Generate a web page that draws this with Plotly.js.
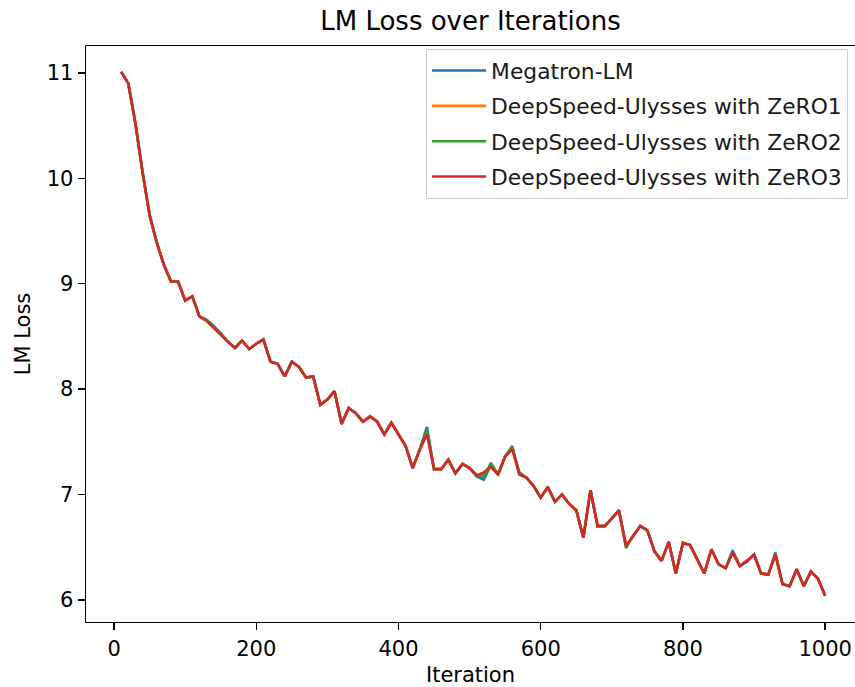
<!DOCTYPE html>
<html>
<head>
<meta charset="utf-8">
<script src="https://cdn.plot.ly/plotly-3.0.1.min.js"></script>
<style>
html,body{margin:0;padding:0;background:#fff;overflow:hidden;}
#chart{width:855px;height:687px;}
</style>
</head>
<body>
<div id="chart"></div>
<script>
const iterations = [10,20,30,40,50,60,70,80,90,100,110,120,130,140,150,160,170,180,190,200,210,220,230,240,250,260,270,280,290,300,310,320,330,340,350,360,370,380,390,400,410,420,430,440,450,460,470,480,490,500,510,520,530,540,550,560,570,580,590,600,610,620,630,640,650,660,670,680,690,700,710,720,730,740,750,760,770,780,790,800,810,820,830,840,850,860,870,880,890,900,910,920,930,940,950,960,970,980,990,1000];

const megatron = [11.01,10.90,10.52,10.06,9.65,9.39,9.18,9.02,9.02,8.84,8.88,8.69,8.66,8.60,8.53,8.45,8.39,8.46,8.38,8.43,8.47,8.26,8.24,8.12,8.26,8.21,8.11,8.12,7.85,7.90,7.98,7.67,7.82,7.77,7.69,7.74,7.69,7.57,7.68,7.57,7.46,7.25,7.43,7.64,7.24,7.24,7.33,7.20,7.29,7.25,7.17,7.14,7.28,7.19,7.36,7.46,7.19,7.16,7.08,6.97,7.07,6.93,7.00,6.91,6.85,6.59,7.04,6.70,6.70,6.77,6.85,6.51,6.61,6.70,6.66,6.46,6.37,6.55,6.25,6.54,6.52,6.39,6.25,6.48,6.34,6.30,6.47,6.32,6.36,6.43,6.25,6.24,6.45,6.15,6.13,6.29,6.13,6.27,6.20,6.04];

const zero1 = [11.01,10.90,10.52,10.06,9.65,9.39,9.18,9.02,9.02,8.84,8.88,8.69,8.65,8.58,8.52,8.45,8.39,8.46,8.38,8.43,8.47,8.26,8.24,8.12,8.26,8.21,8.11,8.12,7.85,7.90,7.98,7.67,7.82,7.77,7.69,7.74,7.69,7.57,7.68,7.57,7.46,7.25,7.43,7.59,7.24,7.24,7.33,7.20,7.29,7.25,7.18,7.20,7.27,7.19,7.36,7.44,7.19,7.16,7.08,6.97,7.07,6.93,7.00,6.91,6.85,6.59,7.04,6.70,6.70,6.77,6.85,6.51,6.61,6.70,6.66,6.46,6.37,6.55,6.25,6.54,6.52,6.39,6.25,6.48,6.34,6.30,6.45,6.32,6.37,6.43,6.25,6.24,6.43,6.15,6.13,6.29,6.13,6.27,6.20,6.04];

const zero2 = [11.01,10.90,10.52,10.06,9.65,9.39,9.18,9.02,9.02,8.84,8.88,8.69,8.65,8.58,8.52,8.45,8.39,8.46,8.38,8.43,8.47,8.26,8.24,8.12,8.26,8.21,8.11,8.12,7.85,7.90,7.98,7.67,7.82,7.77,7.69,7.74,7.69,7.57,7.68,7.57,7.46,7.25,7.43,7.61,7.24,7.24,7.33,7.20,7.29,7.25,7.18,7.17,7.30,7.19,7.36,7.44,7.21,7.16,7.08,6.97,7.07,6.93,7.00,6.91,6.85,6.59,7.04,6.70,6.70,6.77,6.85,6.49,6.61,6.70,6.66,6.46,6.37,6.55,6.25,6.54,6.52,6.39,6.25,6.48,6.34,6.30,6.45,6.32,6.37,6.43,6.25,6.24,6.43,6.15,6.13,6.29,6.13,6.27,6.20,6.04];

const zero3 = [11.01,10.90,10.52,10.06,9.65,9.39,9.18,9.02,9.02,8.84,8.88,8.69,8.65,8.58,8.52,8.45,8.39,8.46,8.38,8.43,8.47,8.26,8.24,8.12,8.26,8.21,8.11,8.12,7.85,7.90,7.98,7.67,7.82,7.77,7.69,7.74,7.69,7.57,7.68,7.57,7.46,7.25,7.43,7.57,7.24,7.24,7.33,7.20,7.29,7.25,7.18,7.21,7.26,7.19,7.36,7.43,7.19,7.16,7.08,6.97,7.07,6.93,7.00,6.91,6.85,6.59,7.04,6.70,6.70,6.77,6.85,6.51,6.61,6.70,6.66,6.46,6.37,6.55,6.25,6.54,6.52,6.39,6.25,6.48,6.34,6.30,6.45,6.32,6.37,6.43,6.25,6.24,6.43,6.15,6.13,6.29,6.13,6.27,6.20,6.04];

const seriesNames = ["Megatron-LM","DeepSpeed-Ulysses with ZeRO1","DeepSpeed-Ulysses with ZeRO2","DeepSpeed-Ulysses with ZeRO3"];
const seriesValues = [megatron, zero1, zero2, zero3];
const seriesColors = ["#1f77b4","#ff7f0e","#2ca02c","#d62728"];

const traces = seriesValues.map((vals, i) => ({
  type: "scatter",
  mode: "lines",
  x: iterations,
  y: vals,
  name: seriesNames[i],
  legendgroup: "g" + i,
  line: {color: seriesColors[i], width: 2.6}
}));

const fontFam = "DejaVu Sans, sans-serif";
const fs = 21;
const layout = {
  width: 855,
  height: 687,
  paper_bgcolor: "#fff",
  plot_bgcolor: "#fff",
  margin: {l: 85.5, r: 0, t: 45.5, b: 64.5, pad: 0},
  font: {family: fontFam, size: fs, color: "#000"},
  title: {
    text: "LM Loss over Iterations",
    font: {family: fontFam, size: 26, color: "#000"},
    xref: "paper", x: 0.5, xanchor: "center",
    yref: "container", y: 1 - 21/687, yanchor: "middle"
  },
  xaxis: {
    range: [-39.5, 1042],
    tickmode: "array",
    tickvals: [0,200,400,600,800,1000],
    ticktext: ["0","200","400","600","800","1000"],
    ticks: "outside", ticklen: 7, tickwidth: 1.4, tickcolor: "#000",
    showline: true, linecolor: "#000", linewidth: 1.4, mirror: true,
    showgrid: false, zeroline: false,
    tickfont: {family: fontFam, size: fs, color: "#000"},
    title: {text: "Iteration", font: {family: fontFam, size: fs, color: "#000"}, standoff: 9}
  },
  yaxis: {
    range: [5.79, 11.255],
    tickmode: "array",
    tickvals: [6,7,8,9,10,11],
    ticktext: ["6","7","8","9","10","11"],
    ticks: "outside", ticklen: 7, tickwidth: 1.4, tickcolor: "#000",
    showline: true, linecolor: "#000", linewidth: 1.4, mirror: true,
    showgrid: false, zeroline: false,
    tickfont: {family: fontFam, size: fs, color: "#000"},
    title: {text: "LM Loss", font: {family: fontFam, size: fs, color: "#000"}, standoff: 10}
  },
  showlegend: true,
  legend: {
    x: 0.991, xanchor: "right", xref: "paper",
    y: 0.995, yanchor: "top", yref: "paper",
    bgcolor: "rgba(255,255,255,0.8)",
    bordercolor: "#cccccc", borderwidth: 1,
    font: {family: fontFam, size: 21.8, color: "#1a1a1a"},
    traceorder: "grouped",
    tracegroupgap: 4,
    itemwidth: 54
  }
};

Plotly.newPlot("chart", traces, layout, {displayModeBar: false, staticPlot: true});
</script>
</body>
</html>
